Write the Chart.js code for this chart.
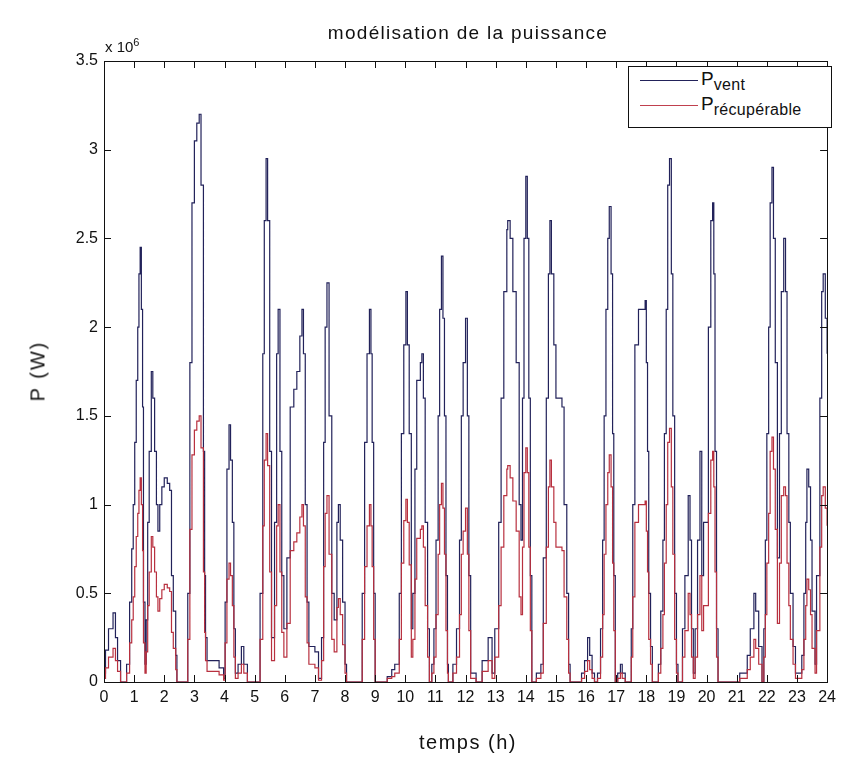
<!DOCTYPE html>
<html>
<head>
<meta charset="utf-8">
<script src="https://cdn.jsdelivr.net/npm/chart.js@4/dist/chart.umd.min.js"></script>
<style>
  body { margin: 0; background: #fff; }
  #wrap { position: relative; width: 842px; height: 763px; font-family: "Liberation Sans", Arial, sans-serif; color: #111; }
  canvas { position: absolute; left: 0; top: 0; }
  .lbl { position: absolute; white-space: nowrap; }
  #title { left: 0; width: 936px; top: 22px; text-align: center; font-size: 19px; letter-spacing: 1.3px; }
  #expo { left: 105px; top: 36px; font-size: 15px; }
  #expo sup { font-size: 11px; }
  #ylab { left: 38px; top: 371px; font-size: 20px; letter-spacing: 2px; transform: translate(-50%, -50%) rotate(-90deg); }
  #xlab { left: 468px; top: 731px; font-size: 20px; letter-spacing: 1.5px; transform: translateX(-50%); }
  #legend { position: absolute; left: 628px; top: 66px; width: 204px; height: 62px; border: 1px solid #111; background: #fff; box-sizing: border-box; }
  .row { position: absolute; left: 11px; height: 24px; }
  .row .ln { position: absolute; left: 0; top: 12px; width: 58px; height: 1px; }
  .row .tx { position: absolute; left: 61px; top: 0; font-size: 19px; }
  .row sub { font-size: 16px; letter-spacing: 0.3px; }
</style>
</head>
<body>
<div id="wrap">
  <canvas id="chart" width="842" height="763"></canvas>
  <div class="lbl" id="title">modélisation de la puissance</div>
  <div class="lbl" id="expo">x 10<sup>6</sup></div>
  <div class="lbl" id="ylab">P (W)</div>
  <div class="lbl" id="xlab">temps (h)</div>
  <div id="legend">
    <div class="row" style="top:1px"><div class="ln" style="background:#22225a"></div><div class="tx">P<sub>vent</sub></div></div>
    <div class="row" style="top:26px"><div class="ln" style="background:#c0404e"></div><div class="tx">P<sub>récupérable</sub></div></div>
  </div>
</div>
<script>
// temps (h)
const hours = [
  0.00,0.05,0.15,0.30,0.38,0.45,0.55,0.75,0.85,0.92,0.97,1.02,1.07,1.12,1.16,1.20,1.24,1.28,1.31,1.36,
  1.40,1.45,1.50,1.57,1.62,1.68,1.74,1.79,1.85,1.92,2.00,2.10,2.18,2.24,2.30,2.38,2.42,2.78,2.85,2.92,
  3.00,3.08,3.16,3.22,3.30,3.34,3.37,3.42,3.70,3.82,3.97,4.02,4.08,4.15,4.20,4.26,4.31,4.36,4.45,4.56,
  4.64,4.76,5.18,5.27,5.32,5.38,5.43,5.50,5.56,5.66,5.73,5.78,5.84,5.90,5.97,6.07,6.18,6.30,6.40,6.50,
  6.57,6.62,6.68,6.74,6.80,7.00,7.12,7.22,7.29,7.34,7.40,7.47,7.56,7.64,7.73,7.78,7.84,7.92,8.00,8.05,
  8.57,8.65,8.73,8.81,8.86,8.90,8.95,9.00,9.40,9.55,9.65,9.80,9.87,9.95,10.02,10.07,10.13,10.20,10.25,10.32,
  10.38,10.50,10.55,10.60,10.66,10.74,10.80,10.88,10.95,11.02,11.09,11.14,11.20,11.25,11.30,11.35,11.40,11.43,11.58,11.70,
  11.80,11.86,11.92,12.00,12.06,12.11,12.17,12.35,12.55,12.75,12.88,12.97,13.10,13.18,13.27,13.37,13.40,13.48,13.57,13.68,
  13.78,13.84,13.89,13.94,14.00,14.05,14.10,14.15,14.20,14.35,14.50,14.58,14.68,14.75,14.80,14.85,14.93,15.00,15.20,15.27,
  15.36,15.42,15.47,15.85,15.95,16.05,16.12,16.20,16.28,16.38,16.48,16.55,16.60,16.66,16.72,16.77,16.83,16.88,16.92,16.97,
  17.05,17.14,17.20,17.30,17.50,17.55,17.62,17.74,17.96,18.00,18.04,18.08,18.14,18.20,18.40,18.48,18.55,18.60,18.66,18.71,
  18.77,18.83,18.88,18.94,19.00,19.05,19.20,19.28,19.39,19.45,19.50,19.56,19.62,19.70,19.78,19.84,19.90,20.06,20.14,20.20,
  20.24,20.28,20.33,20.38,21.10,21.35,21.45,21.57,21.63,21.73,21.84,21.90,21.95,22.00,22.06,22.11,22.17,22.22,22.28,22.35,
  22.42,22.48,22.56,22.62,22.67,22.73,22.78,22.87,22.95,23.05,23.16,23.23,23.29,23.33,23.39,23.45,23.50,23.60,23.65,23.76,
  23.82,23.87,23.94,24.00
];

// P vent (x 10^6 W)
const pVent = [
  0.05,0.18,0.30,0.39,0.25,0.12,0,0.10,0.45,0.75,1.00,1.35,1.70,2.00,2.30,2.45,2.10,1.55,0.45,0.10,
  0.35,0.90,1.30,1.75,1.60,1.30,1.00,0.85,1.00,1.10,1.15,1.12,1.08,0.60,0.40,0.15,0,0.50,1.80,2.70,
  3.05,3.15,3.20,2.80,1.30,0.60,0.25,0.12,0.12,0.08,0.02,0.45,1.20,1.45,1.25,0.90,0.30,0.05,0.10,0.20,
  0.10,0,0.50,1.85,2.60,2.95,2.60,1.30,0.25,0.90,1.85,2.10,1.30,0.60,0.30,0.70,1.55,1.65,1.75,1.95,
  2.10,1.85,1.00,0.45,0.20,0.17,0.02,0.25,1.35,2.00,2.25,1.50,0.50,0.35,0.90,1.00,0.80,0.45,0.10,0,
  0.50,1.35,1.85,2.10,1.85,1.35,0.50,0,0.03,0.07,0.10,0.50,1.40,1.90,2.20,1.90,1.40,0.30,0.50,1.20,
  1.70,1.80,1.85,1.60,0.90,0.30,0,0.10,0.30,0.80,1.50,2.10,2.40,2.05,1.50,0.60,0.10,0,0.10,0.30,
  0.80,1.50,1.80,2.05,1.50,0.60,0.05,0,0.12,0.25,0.05,0.30,0.90,1.60,2.20,2.55,2.60,2.50,2.20,1.80,
  1.00,0.80,1.60,2.50,2.85,2.50,1.60,0.60,0,0.05,0.10,0.70,1.60,2.30,2.60,2.30,1.90,1.60,1.55,1.00,
  0.50,0.10,0,0.05,0.12,0.25,0.15,0.05,0,0.05,0.30,0.80,1.50,2.10,2.50,2.68,2.30,1.40,0.60,0,
  0.05,0.10,0.05,0,0.30,1.00,1.90,2.10,2.15,1.80,1.30,0.50,0.20,0,0.10,0.40,0.80,1.40,2.10,2.80,
  2.95,2.30,1.50,0.50,0.10,0,0.30,0.60,1.05,0.80,0.30,0.05,0.30,0.80,1.30,0.60,0.90,2.00,2.60,2.70,
  2.30,1.30,0.30,0,0.05,0.15,0.30,0.50,0.40,0.20,0,0.30,0.80,1.40,2.00,2.70,2.90,2.50,1.80,0.70,
  1.40,2.20,2.50,2.20,1.40,0.90,0.50,0.20,0.05,0.05,0.15,0.50,0.90,1.20,1.10,0.80,0.40,0.10,0.60,1.60,
  2.20,2.30,2.05,1.85
];

// P récupérable (x 10^6 W)
const pRecup = [
  0.02,0.08,0.14,0.19,0.12,0.06,0,0.05,0.22,0.35,0.48,0.65,0.82,0.95,1.08,1.15,1.00,0.74,0.22,0.05,
  0.17,0.43,0.62,0.82,0.76,0.62,0.48,0.40,0.47,0.52,0.55,0.53,0.51,0.28,0.19,0.07,0,0.24,0.86,1.28,
  1.42,1.47,1.50,1.32,0.62,0.28,0.12,0.06,0.06,0.04,0.01,0.22,0.58,0.67,0.60,0.43,0.14,0.02,0.05,0.10,
  0.05,0,0.24,0.88,1.25,1.40,1.22,0.62,0.12,0.43,0.88,1.00,0.62,0.28,0.14,0.33,0.74,0.79,0.84,0.93,
  1.00,0.88,0.48,0.22,0.10,0.08,0.01,0.12,0.65,0.95,1.05,0.72,0.24,0.17,0.42,0.47,0.38,0.21,0.05,0,
  0.24,0.65,0.88,1.00,0.88,0.65,0.24,0,0.02,0.03,0.05,0.24,0.67,0.91,1.03,0.90,0.66,0.14,0.24,0.58,
  0.81,0.86,0.88,0.76,0.43,0.14,0,0.05,0.14,0.38,0.72,1.00,1.12,0.98,0.72,0.29,0.05,0,0.05,0.14,
  0.38,0.72,0.85,0.98,0.72,0.29,0.02,0,0.06,0.12,0.02,0.14,0.43,0.76,1.05,1.20,1.22,1.15,1.02,0.85,
  0.48,0.38,0.76,1.18,1.32,1.18,0.76,0.29,0,0.02,0.05,0.33,0.76,1.10,1.25,1.10,0.90,0.76,0.74,0.48,
  0.24,0.05,0,0.02,0.06,0.12,0.07,0.02,0,0.02,0.14,0.38,0.72,1.00,1.18,1.28,1.10,0.67,0.29,0,
  0.02,0.05,0.02,0,0.14,0.48,0.90,1.00,1.02,0.85,0.62,0.24,0.10,0,0.05,0.19,0.38,0.67,1.00,1.35,
  1.43,1.10,0.72,0.24,0.05,0,0.14,0.29,0.50,0.38,0.14,0.02,0.14,0.38,0.60,0.29,0.43,0.95,1.25,1.30,
  1.10,0.62,0.14,0,0.02,0.07,0.14,0.24,0.19,0.10,0,0.14,0.38,0.67,0.95,1.30,1.38,1.20,0.86,0.33,
  0.67,1.05,1.10,1.05,0.67,0.43,0.24,0.10,0.02,0.02,0.07,0.24,0.43,0.58,0.52,0.38,0.19,0.05,0.29,0.76,
  1.05,1.10,0.98,0.88
];

const plotLeft = 104, plotRight = 832, plotTop = 61, plotBottom = 682;

// cadre + graduations vers l'intérieur (style matlab)
const matlabFrame = {
  id: "matlabFrame",
  afterDatasetsDraw(chart) {
    const { ctx, chartArea: a, scales: { x, y } } = chart;
    ctx.save();
    ctx.strokeStyle = "#111";
    ctx.lineWidth = 1;
    ctx.beginPath();
    x.ticks.forEach(t => {
      const px = Math.round(x.getPixelForValue(t.value)) + 0.5;
      ctx.moveTo(px, a.bottom); ctx.lineTo(px, a.bottom - 7);
      ctx.moveTo(px, a.top); ctx.lineTo(px, a.top + 7);
    });
    y.ticks.forEach(t => {
      const py = Math.round(y.getPixelForValue(t.value)) + 0.5;
      ctx.moveTo(a.left, py); ctx.lineTo(a.left + 7, py);
      ctx.moveTo(a.right, py); ctx.lineTo(a.right - 7, py);
    });
    ctx.stroke();
    ctx.strokeRect(Math.round(a.left) + 0.5, Math.round(a.top) + 0.5, Math.round(a.right - a.left), Math.round(a.bottom - a.top));
    ctx.restore();
  }
};

new Chart(document.getElementById("chart"), {
  type: "line",
  data: {
    datasets: [
      {
        label: "P vent",
        data: hours.map((h, i) => ({ x: h, y: pVent[i] })),
        borderColor: "#22225a",
        borderWidth: 1.2,
        pointRadius: 0,
        stepped: true,
        order: 2
      },
      {
        label: "P récupérable",
        data: hours.map((h, i) => ({ x: h, y: pRecup[i] })),
        borderColor: "#b8303f",
        borderWidth: 1.2,
        pointRadius: 0,
        stepped: true,
        order: 1
      }
    ]
  },
  options: {
    responsive: false,
    animation: false,
    layout: { padding: { left: 0, right: 842 - plotRight, top: plotTop, bottom: 0 } },
    plugins: { legend: { display: false }, tooltip: { enabled: false } },
    scales: {
      x: {
        type: "linear",
        min: 0, max: 24,
        grid: { display: false, drawTicks: false },
        border: { display: false },
        ticks: { stepSize: 1, padding: 6, color: "#111", font: { family: "Liberation Sans", size: 16 } },
        afterFit: s => { s.height = 763 - plotBottom; }
      },
      y: {
        min: 0, max: 3.5,
        grid: { display: false, drawTicks: false },
        border: { display: false },
        ticks: { stepSize: 0.5, padding: 6, color: "#111", font: { family: "Liberation Sans", size: 16 }, callback: v => String(v) },
        afterFit: s => { s.width = plotLeft; }
      }
    }
  },
  plugins: [matlabFrame]
});
</script>
</body>
</html>
